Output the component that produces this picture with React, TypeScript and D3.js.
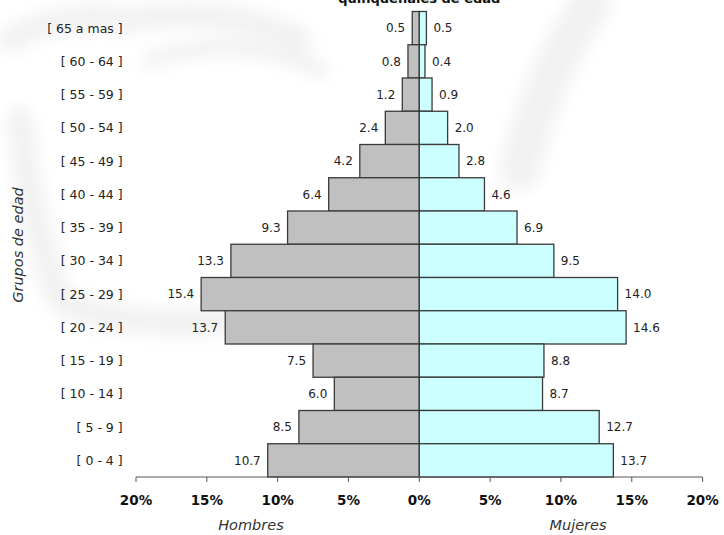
import React from "react";
import * as d3 from "d3";

// Age groups, oldest at the top
const ageGroups = [
  "[ 65 a mas ]",
  "[ 60 - 64 ]",
  "[ 55 - 59 ]",
  "[ 50 - 54 ]",
  "[ 45 - 49 ]",
  "[ 40 - 44 ]",
  "[ 35 - 39 ]",
  "[ 30 - 34 ]",
  "[ 25 - 29 ]",
  "[ 20 - 24 ]",
  "[ 15 - 19 ]",
  "[ 10 - 14 ]",
  "[ 5 - 9 ]",
  "[ 0 - 4 ]",
];

// Percentage of the population in each group
const hombres = [0.5, 0.8, 1.2, 2.4, 4.2, 6.4, 9.3, 13.3, 15.4, 13.7, 7.5, 6.0, 8.5, 10.7];
const mujeres = [0.5, 0.4, 0.9, 2.0, 2.8, 4.6, 6.9, 9.5, 14.0, 14.6, 8.8, 8.7, 12.7, 13.7];

const xTicks = [-20, -15, -10, -5, 0, 5, 10, 15, 20];

const W = 724;
const H = 535;
const left = 136;
const right = 702.6;
const top = 11.5;
const bottom = 477;

const FONT = "'DejaVu Sans', sans-serif";

export default function App() {
  const x = d3.scaleLinear().domain([-20, 20]).range([left, right]);
  const y = d3.scaleBand<string>().domain(ageGroups).range([top, bottom]).padding(0);
  const x0 = x(0);
  const bw = y.bandwidth();

  return (
    <svg
      width={W}
      height={H}
      viewBox={`0 0 ${W} ${H}`}
      style={{ position: "absolute", left: 0, top: 0, background: "#fff" }}
    >
      <defs>
        <filter id="soft" x="-20%" y="-20%" width="140%" height="140%">
          <feGaussianBlur stdDeviation="8" />
        </filter>
      </defs>

      {/* faint watermark behind the chart */}
      <g filter="url(#soft)" fill="none" stroke="#f1f1f1" strokeLinecap="round">
        <path d="M 10 40 Q 60 10 130 20 Q 230 5 300 40" strokeWidth={24} />
        <path d="M 590 5 Q 540 80 520 170" strokeWidth={40} />
        <path d="M 20 120 Q 30 220 60 300 Q 120 330 240 320" strokeWidth={26} />
        <path d="M 150 60 Q 240 30 320 70" strokeWidth={16} />
      </g>

      {/* title line */}
      <text
        x={x0}
        y={3}
        textAnchor="middle"
        fontFamily={FONT}
        fontWeight="bold"
        fontSize={13}
        fill="#111"
      >
        quinquenales de edad
      </text>

      {/* male bars */}
      {ageGroups.map((g, i) => (
        <rect
          key={"h" + g}
          x={x(-hombres[i])}
          y={y(g)}
          width={x0 - x(-hombres[i])}
          height={bw}
          fill="#c0c0c0"
          stroke="#3a3a3a"
          strokeWidth={1.3}
        />
      ))}

      {/* female bars */}
      {ageGroups.map((g, i) => (
        <rect
          key={"m" + g}
          x={x0}
          y={y(g)}
          width={x(mujeres[i]) - x0}
          height={bw}
          fill="#ccffff"
          stroke="#3a3a3a"
          strokeWidth={1.3}
        />
      ))}

      {/* value labels */}
      {ageGroups.map((g, i) => (
        <text
          key={"lh" + g}
          x={x(-hombres[i]) - 7}
          y={(y(g) as number) + bw / 2}
          dy="0.36em"
          textAnchor="end"
          fontFamily={FONT}
          fontSize={12}
          fill="#222"
        >
          {hombres[i].toFixed(1)}
        </text>
      ))}
      {ageGroups.map((g, i) => (
        <text
          key={"lm" + g}
          x={x(mujeres[i]) + 7}
          y={(y(g) as number) + bw / 2}
          dy="0.36em"
          textAnchor="start"
          fontFamily={FONT}
          fontSize={12}
          fill="#222"
        >
          {mujeres[i].toFixed(1)}
        </text>
      ))}

      {/* age group labels */}
      {ageGroups.map((g) => (
        <text
          key={"c" + g}
          x={122.7}
          y={(y(g) as number) + bw / 2}
          dy="0.36em"
          textAnchor="end"
          fontFamily={FONT}
          fontSize={12.5}
          fill="#222"
        >
          {g}
        </text>
      ))}

      {/* x axis */}
      <line x1={left} x2={right} y1={bottom} y2={bottom} stroke="#555" strokeWidth={1} />
      {xTicks.map((t) => (
        <g key={"t" + t}>
          <line x1={x(t)} x2={x(t)} y1={bottom} y2={bottom + 5} stroke="#555" strokeWidth={1} />
          <text
            x={x(t)}
            y={bottom + 23}
            dy="0.36em"
            textAnchor="middle"
            fontFamily={FONT}
            fontWeight="bold"
            fontSize={13.5}
            fill="#111"
          >
            {Math.abs(t)}%
          </text>
        </g>
      ))}

      {/* side captions */}
      <text
        x={251}
        y={525}
        dy="0.36em"
        textAnchor="middle"
        fontFamily={FONT}
        fontStyle="italic"
        fontSize={14.5}
        fill="#333"
      >
        Hombres
      </text>
      <text
        x={578}
        y={525}
        dy="0.36em"
        textAnchor="middle"
        fontFamily={FONT}
        fontStyle="italic"
        fontSize={14.5}
        fill="#333"
      >
        Mujeres
      </text>

      {/* y axis title */}
      <text
        transform={`translate(18, 245) rotate(-90)`}
        dy="0.36em"
        textAnchor="middle"
        fontFamily={FONT}
        fontStyle="italic"
        fontSize={14.5}
        fill="#333"
      >
        Grupos de edad
      </text>
    </svg>
  );
}
